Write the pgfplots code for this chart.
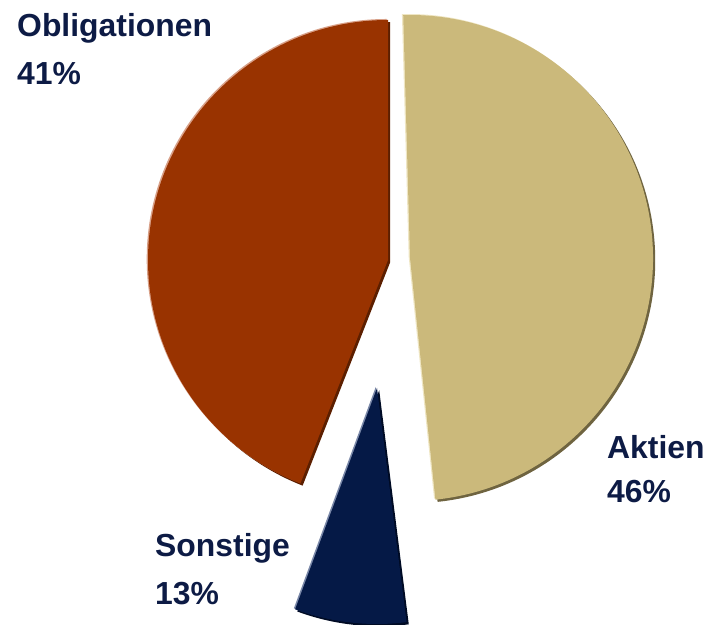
\documentclass[border=0pt]{standalone}
\usepackage{pgfplots}
\pgfplotsset{compat=1.18}
\usepackage{fontspec}
\setmainfont{Liberation Sans}
\definecolor{txt}{HTML}{0D1B45}
\definecolor{brownM}{HTML}{993300}
\definecolor{brownL}{HTML}{D8A088}
\definecolor{brownD}{HTML}{5C1F00}
\definecolor{tanM}{HTML}{CBB97B}
\definecolor{tanL}{HTML}{EFE6C4}
\definecolor{tanD}{HTML}{6F6440}
\definecolor{navyM}{HTML}{051946}
\definecolor{navyL}{HTML}{7A88A8}
\definecolor{navyD}{HTML}{000B24}
% slice: cx, cy, radius, start angle, end angle, main, light, dark
\newcommand\slice[8]{%
  \fill[#8, xshift=2.2bp, yshift=-2.2bp] (axis cs:#1,#2) -- ++(#4:#3bp) arc[start angle=#4, end angle=#5, radius=#3bp] -- cycle;
  \fill[#7, xshift=-1.3bp, yshift=1.0bp] (axis cs:#1,#2) -- ++(#4:#3bp) arc[start angle=#4, end angle=#5, radius=#3bp] -- cycle;
  \fill[#6] (axis cs:#1,#2) -- ++(#4:#3bp) arc[start angle=#4, end angle=#5, radius=#3bp] -- cycle;
}
\begin{document}
\begin{tikzpicture}
\begin{axis}[name=ax, x=1bp, y=1bp, xmin=0, xmax=713, ymin=0, ymax=625, hide axis, clip=true]
% values: Aktien 46, Obligationen 41, Sonstige 13 (slice angles as drawn)
\slice{410}{367}{243}{-84}{91.6}{tanM}{tanL}{tanD}
\slice{388}{365}{240}{90}{248.6}{brownM}{brownL}{brownD}
\slice{377}{237}{236}{249.7}{277.2}{navyM}{navyL}{navyD}
\end{axis}
\begin{axis}[x=1bp, y=1bp, xmin=0, xmax=713, ymin=0, ymax=625, hide axis, clip=false]
\tikzset{lab/.style={anchor=base west, inner sep=0pt, text=txt, font=\bfseries\fontsize{32}{38}\selectfont}}
\node[lab] at (axis cs:17,588) {Obligationen};
\node[lab] at (axis cs:17,540) {41\%};
\node[lab] at (axis cs:607,166) {Aktien};
\node[lab] at (axis cs:607,122) {46\%};
\node[lab] at (axis cs:155,68) {Sonstige};
\node[lab] at (axis cs:155,20) {13\%};
\end{axis}
\pgfresetboundingbox
\useasboundingbox (ax.south west) rectangle (ax.north east);
\end{tikzpicture}
\end{document}
